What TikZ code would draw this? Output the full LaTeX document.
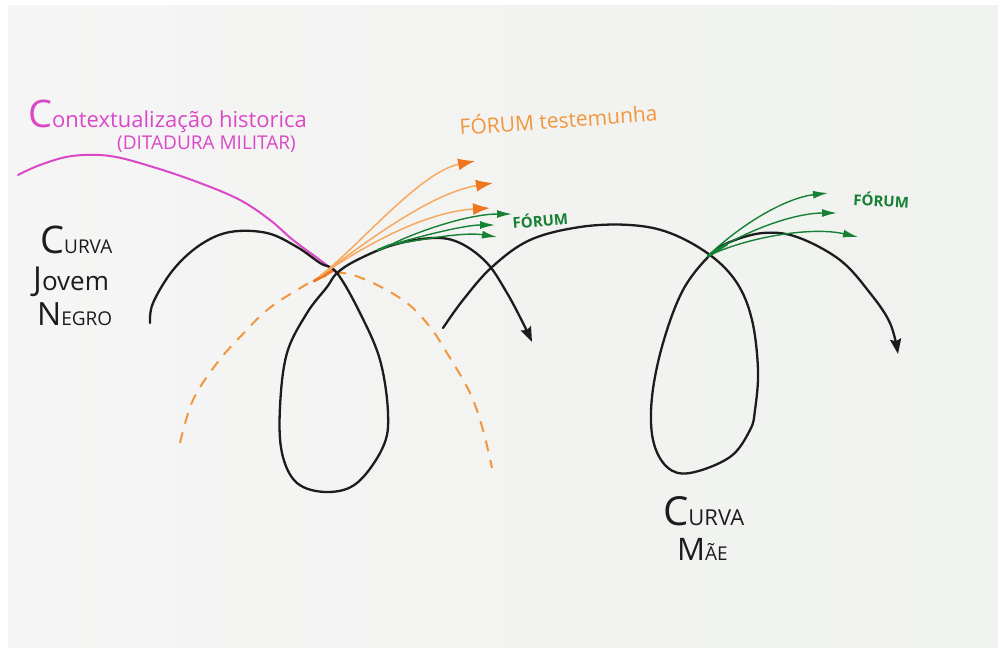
\documentclass[tikz,border=0pt]{standalone}
\usepackage{fontspec}
\setmainfont{Open Sans}
\usetikzlibrary{arrows.meta}

\definecolor{ink}{RGB}{28,28,28}
\definecolor{pinkink}{RGB}{218,72,200}
\definecolor{orangeink}{RGB}{242,150,62}
\definecolor{orangeline}{RGB}{245,170,95}
\definecolor{orangehead}{RGB}{240,118,32}
\definecolor{greenink}{RGB}{22,128,52}
\definecolor{paperL}{RGB}{245,245,245}
\definecolor{paperR}{RGB}{240,242,238}

% one big letter followed by smaller ones, like hand lettering
\newcommand\hw[4]{{\fontsize{#1}{#1}\selectfont #2}{\fontsize{#3}{#3}\selectfont #4}}

\begin{document}
\begin{tikzpicture}[x=1pt,y=-1pt,
  pen/.style={draw=ink, line width=2.3pt, line cap=round, line join=round},
  inkhead/.style={-{Stealth[length=15pt,width=11pt,inset=2pt,color=ink]}},
  pinkpen/.style={draw=pinkink, line width=2pt, line cap=round},
  orangedash/.style={draw=orangeink, line width=2pt, dash pattern=on 11pt off 9pt},
  orangepen/.style={draw=orangeline, line width=1.5pt,
    -{Latex[length=17pt,width=12pt,color=orangehead]}},
  greenpen/.style={draw=greenink, line width=1.4pt,
    -{Latex[length=15pt,width=8pt,color=greenink]}},
  label/.style={inner sep=0pt, anchor=base west},
]
\useasboundingbox (0,0) rectangle (998,648);
\fill[white] (0,0) rectangle (998,648);
\shade[left color=paperL, right color=paperR] (8,5) rectangle (998,647);

% crossing points and arrow origins
\coordinate (crossA) at (337,273);
\coordinate (crossB) at (710,255);
\coordinate (oStart) at (320,276);
\coordinate (gStartA) at (390,245);
\coordinate (gStartB) at (708,256);
\coordinate (oTip1) at (475,161);
\coordinate (oTip2) at (493,183);
\coordinate (oTip3) at (490,208);
\coordinate (gTipA1) at (512,214);
\coordinate (gTipA2) at (495,225);
\coordinate (gTipA3) at (497,237);
\coordinate (gTipB1) at (828,193);
\coordinate (gTipB2) at (837,213);
\coordinate (gTipB3) at (858,237);

% historical context curve
\draw[pinkpen] plot[smooth, tension=0.6] coordinates {(18,175) (40,165) (72,156) (110,156)
  (153,167) (200,183) (240,200) (270,220) (293,240) (320,260) (crossA)};

% dashed orange arc
\draw[orangedash] plot[smooth, tension=0.6] coordinates {(180,443) (193,400) (217,363)
  (240,337) (267,310) (297,290) (320,278) (343,273) (373,283) (407,303) (430,327)
  (447,353) (470,393) (483,430) (492,468)};
\draw[draw=orangehead, line width=3pt, line cap=round] (314,281) -- (332,271);

% first loop
\draw[pen, inkhead] plot[smooth, tension=0.6] coordinates {(150,323) (153,303) (173,270)
  (200,245) (230,232) (267,233) (297,247) (320,263) (crossA) (360,313) (380,360)
  (388,413) (383,447) (357,483) (327,492) (297,483) (282,453) (280,407) (287,353)
  (307,313) (327,287) (crossA) (357,260) (393,245) (433,238) (460,243) (487,263)
  (507,293) (523,323) (532,342)};

% second loop
\draw[pen, inkhead] plot[smooth, tension=0.6] coordinates {(443,328) (463,300) (492,267)
  (530,240) (580,227) (630,225) (670,233) (crossB) (737,283) (752,320) (758,370)
  (755,410) (750,430) (730,457) (690,473) (667,467) (653,440) (652,397) (663,343)
  (683,290) (crossB) (730,242) (763,233) (797,237) (840,260) (870,293) (890,323)
  (898,354)};

% testimony arrows
\draw[orangepen] (oStart) .. controls (360,245) and (420,172) .. (oTip1);
\draw[orangepen] (oStart) .. controls (362,245) and (430,193) .. (oTip2);
\draw[orangepen] (oStart) .. controls (365,245) and (425,212) .. (oTip3);

% forum arrows on the first loop
\draw[draw=greenink, line width=2.4pt, line cap=round] (378,250) -- (gStartA);
\draw[greenpen] (gStartA) .. controls (420,230) and (470,214) .. (gTipA1);
\draw[greenpen] (gStartA) .. controls (425,235) and (465,225) .. (gTipA2);
\draw[greenpen] (gStartA) .. controls (430,238) and (465,232) .. (gTipA3);

% forum arrows on the second loop
\draw[draw=greenink, line width=3pt, line cap=round] (gStartB) -- (727,244);
\draw[greenpen] (gStartB) .. controls (740,225) and (785,198) .. (gTipB1);
\draw[greenpen] (gStartB) .. controls (745,230) and (795,213) .. (gTipB2);
\draw[greenpen] (gStartB) .. controls (745,238) and (810,226) .. (gTipB3);

% labels
\node[label, text=pinkink] (ctx) at (28,127)
  {\hw{38pt}{C}{22pt}{ontextualização historica}};
\node[label, text=pinkink] (dit) at (117,149)
  {\fontsize{19pt}{19pt}\selectfont (DITADURA MILITAR)};
\node[label, text=orangeink, rotate=4] (testemunha) at (460,135)
  {\fontsize{21pt}{21pt}\selectfont FÓRUM testemunha};
\node[label, text=greenink, rotate=5] (forumA) at (513,229)
  {\fontsize{15pt}{15pt}\selectfont\bfseries FÓRUM};
\node[label, text=greenink, rotate=-3] (forumB) at (853,205)
  {\fontsize{15pt}{15pt}\selectfont\bfseries FÓRUM};

\node[label, text=ink] (jovem1) at (40,253) {\hw{38pt}{C}{19pt}{URVA}};
\node[label, text=ink] (jovem2) at (33,290) {\hw{33pt}{J}{26pt}{ovem}};
\node[label, text=ink] (jovem3) at (37,325) {\hw{32pt}{N}{19pt}{EGRO}};

\node[label, text=ink] (mae1) at (663,525) {\hw{40pt}{C}{22pt}{URVA}};
\node[label, text=ink] (mae2) at (677,560) {\hw{31pt}{M}{19pt}{ÃE}};
\end{tikzpicture}
\end{document}
